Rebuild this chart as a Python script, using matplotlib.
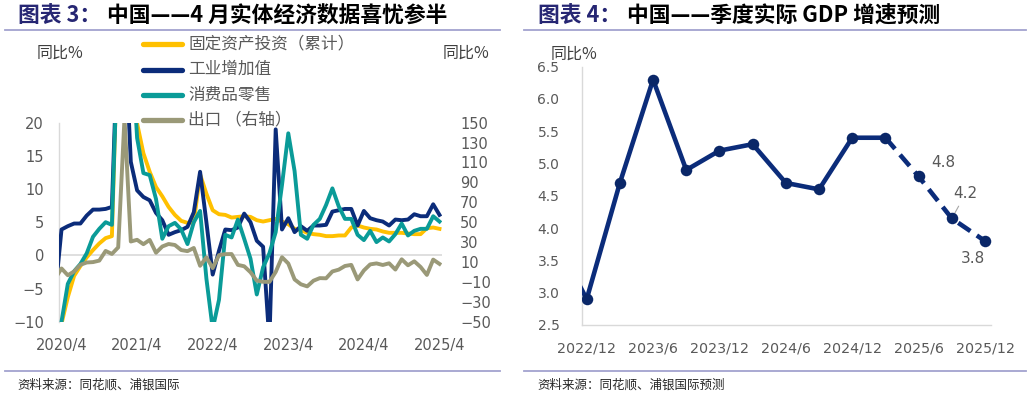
import matplotlib
matplotlib.use('Agg')
import matplotlib.pyplot as plt
from matplotlib.lines import Line2D
import numpy as np

plt.rcParams['font.family'] = ['DejaVu Sans', 'Noto Sans CJK SC']
CJK = ['Noto Sans CJK SC', 'DejaVu Sans']

W, H = 1032, 395

# ---------------- Left chart data (monthly, 2020/3 .. 2025/4) ----------------
months = [f"{y}/{m}" for y in range(2020, 2026) for m in range(1, 13)]
months = months[months.index("2020/3"):months.index("2025/4") + 1]

fai_cum = [
    -16.1,
    -10.3, -6.3, -3.1, -1.6, -0.3, 0.8, 1.8, 2.6, 2.9,
    35.0, 35.0, 25.6, 19.9, 15.4, 12.6, 10.3, 8.9, 7.3, 6.1, 5.2, 4.9,
    5.0, 12.2, 9.3, 6.8, 6.2, 6.1, 5.7, 5.8, 5.9, 5.8, 5.3, 5.1,
    5.3, 5.5, 5.1, 4.7, 4.0, 3.8, 3.4, 3.2, 3.1, 2.9, 2.9, 3.0,
    3.0, 4.2, 4.5, 4.2, 4.0, 3.9, 3.6, 3.4, 3.4, 3.4, 3.3, 3.2,
    3.2, 4.1, 4.2, 4.0]
ind_prod = [
    -5.8,
    3.9, 4.4, 4.8, 4.8, 6.0, 6.9, 6.9, 7.0, 7.3,
    35.1, 35.1, 14.1, 9.8, 8.8, 8.3, 6.4, 5.3, 3.1, 3.5, 3.8, 4.3,
    6.5, 12.6, 5.0, -2.9, 0.7, 3.9, 3.8, 4.2, 6.3, 5.0, 2.2, 1.3,
    -13.0, 19.0, 3.9, 5.6, 3.5, 4.4, 3.7, 4.5, 4.5, 4.6, 6.6, 6.8,
    7.0, 7.0, 4.5, 6.7, 5.6, 5.3, 5.1, 4.5, 5.4, 5.3, 5.4, 6.2,
    5.9, 5.9, 7.7, 6.1]
retail = [
    -15.8,
    -10.0, -4.3, -2.4, -1.3, 0.3, 2.8, 4.0, 5.0, 4.6,
    33.8, 33.8, 34.2, 17.7, 12.4, 12.1, 8.5, 2.5, 4.4, 4.9, 3.9, 1.7,
    5.0, 6.7, -3.5, -11.1, -6.7, 3.1, 2.7, 5.4, 2.5, -0.5, -5.9, -1.8,
    0.3, 3.5, 10.6, 18.4, 12.7, 3.1, 2.5, 4.6, 5.5, 7.6, 10.1, 7.4,
    5.5, 5.5, 3.1, 2.3, 3.7, 2.0, 2.7, 2.1, 3.2, 4.8, 3.0, 3.7,
    4.0, 4.0, 5.9, 5.1]
exports = [
    -6.6,
    3.5, -3.3, 0.5, 7.2, 9.5, 9.9, 11.4, 21.1, 18.1,
    24.7, 154.9, 30.6, 32.3, 27.9, 32.2, 19.3, 25.6, 28.1, 27.1, 22.0, 20.9,
    24.1, 6.2, 14.7, 3.9, 16.9, 17.9, 18.0, 7.1, 5.7, -0.3, -8.7, -9.9,
    -10.0, 0.0, 14.8, 8.5, -7.5, -12.4, -14.5, -8.8, -6.2, -6.4, 0.5, 2.3,
    6.0, 7.1, -7.5, 1.5, 7.6, 8.6, 7.0, 8.7, 2.4, 12.7, 6.7, 10.7,
    5.0, -3.0, 12.4, 8.1]

left_xticklabels = ["2020/4", "2021/4", "2022/4", "2023/4", "2024/4", "2025/4"]
left_series_names = ["固定资产投资（累计）", "工业增加值", "消费品零售", "出口 （右轴）"]

# ---------------- Right chart data (quarterly) ----------------
quarters = ["2022/9", "2022/12", "2023/3", "2023/6", "2023/9", "2023/12", "2024/3",
            "2024/6", "2024/9", "2024/12", "2025/3", "2025/6", "2025/9", "2025/12"]
gdp = [3.9, 2.9, 4.7, 6.3, 4.9, 5.2, 5.3, 4.7, 4.6, 5.4, 5.4, 4.8, 4.15, 3.8]
forecast_start = "2025/6"
right_xticklabels = ["2022/12", "2023/6", "2023/12", "2024/6", "2024/12", "2025/6", "2025/12"]

# ---------------- Styling ----------------
YELLOW = '#FFC000'
NAVY = '#0B2C7A'
TEAL = '#0A9B98'
OLIVE = '#9A9978'
GRID = '#D9D9D9'
TXT = '#595959'
RULE = '#A3A3CF'
TITLE_NAVY = '#262673'

fig = plt.figure(figsize=(W / 100, H / 100), dpi=100)


def fx(x):
    return x / W


def fy(y):
    return 1 - y / H


def rect(l, t, r, b):
    return [fx(l), fy(b), (r - l) / W, (b - t) / H]


# ---------------- Left chart ----------------
axL = fig.add_axes(rect(59.3, 122.7, 442, 321.7))
axE = axL.twinx()
xm = np.arange(len(months)) - months.index("2020/4")

lw = 2.8
l_fai, = axL.plot(xm, fai_cum, color=YELLOW, lw=lw, solid_joinstyle='round', zorder=2)
l_ip, = axL.plot(xm, ind_prod, color=NAVY, lw=lw, solid_joinstyle='round', zorder=3)
l_rt, = axL.plot(xm, retail, color=TEAL, lw=lw, solid_joinstyle='round', zorder=4)
l_ex, = axE.plot(xm, exports, color=OLIVE, lw=lw, solid_joinstyle='round', zorder=5)

axL.set_xlim(-0.35, 60.4)
axL.set_ylim(-10, 20)
axE.set_ylim(-50, 150)
axL.axhline(0, color=GRID, lw=1.2, zorder=1)
axL.set_yticks(np.arange(-10, 21, 5))
axE.set_yticks(np.arange(-50, 151, 20))
tick_pos = [months.index(lbl) - months.index("2020/4") for lbl in left_xticklabels]
axL.set_xticks(tick_pos)
axL.set_xticklabels(left_xticklabels)
for ax in (axL, axE):
    for s in ax.spines.values():
        s.set_visible(False)
axL.spines['left'].set_visible(True)
axL.spines['left'].set_color(GRID)
axL.spines['left'].set_linewidth(1.0)
axL.tick_params(axis='y', length=0, labelsize=10.5, colors=TXT, pad=11)
axL.tick_params(axis='x', length=0, labelsize=10.5, colors=TXT, pad=12)
axE.tick_params(axis='y', length=0, labelsize=10.5, colors=TXT, pad=13)
axL.set_facecolor('none')

fig.text(fx(60), fy(53), "同比%", ha='center', va='center', fontsize=11.5,
         color='#404040', family=CJK)
fig.text(fx(466), fy(53), "同比%", ha='center', va='center', fontsize=11.5,
         color='#404040', family=CJK)

# legend (manual)
leg_rows = [43.5, 69.5, 95, 120]
for line, name, yy in zip([l_fai, l_ip, l_rt, l_ex], left_series_names, leg_rows):
    fig.add_artist(Line2D([fx(143), fx(182)], [fy(yy), fy(yy)], color=line.get_color(),
                          lw=3.8, solid_capstyle='round', transform=fig.transFigure))
    fig.text(fx(188), fy(yy), name, ha='left', va='center', fontsize=12,
             color=TXT, family=CJK)

# ---------------- Right chart ----------------
axG = fig.add_axes(rect(581.7, 66.7, 991, 325))
xq = np.arange(len(quarters)) - quarters.index("2022/12")
k = quarters.index(forecast_start)
axG.plot(xq[:k], gdp[:k], color=NAVY, lw=3.3, solid_joinstyle='round', zorder=3)
axG.plot(xq[k - 1:], gdp[k - 1:], color=NAVY, lw=3.3, linestyle=(0, (3.2, 1.7)),
         zorder=3)
axG.plot(xq, gdp, linestyle='none', marker='o', markersize=8.3, color='#0A2768',
         markeredgewidth=0, zorder=4)
axG.set_xlim(-0.15, 12.18)
axG.set_ylim(2.5, 6.5)
axG.set_yticks(np.arange(2.5, 6.51, 0.5))
axG.set_yticklabels([f"{v:.1f}" for v in np.arange(2.5, 6.51, 0.5)])
axG.set_xticks([quarters.index(q) - quarters.index("2022/12") for q in right_xticklabels])
axG.set_xticklabels(right_xticklabels)
for s in ('top', 'right'):
    axG.spines[s].set_visible(False)
for s in ('left', 'bottom'):
    axG.spines[s].set_color(GRID)
    axG.spines[s].set_linewidth(1.0)
axG.tick_params(axis='y', length=0, labelsize=10, colors=TXT, pad=16)
axG.tick_params(axis='x', length=0, labelsize=10.3, colors=TXT, pad=12)

fig.text(fx(574.5), fy(54), "同比%", ha='center', va='center', fontsize=11.5,
         color='#404040', family=CJK)

# data labels for forecasts
offsets = [(18, 10), (10, 18), (-9, -12.5)]
for (dx, dy), q in zip(offsets, quarters[k:]):
    i = quarters.index(q)
    v = gdp[i]
    kw = {}
    if q == "2025/9":
        kw['arrowprops'] = dict(arrowstyle='-', color='#A6A6A6', lw=0.8,
                                shrinkA=2, shrinkB=3)
    axG.annotate(f"{v:.1f}", xy=(xq[i], v), xytext=(dx, dy), textcoords='offset points',
                 ha='center', va='center', fontsize=11, color=TXT, **kw)

# ---------------- Titles, rules, sources ----------------
def title(x, x2, y, head, rest):
    fig.text(fx(x), fy(y), head, ha='left', va='center', fontsize=15.7,
             fontweight='bold', color=TITLE_NAVY, family=CJK)
    fig.text(fx(x2), fy(y), rest, ha='left', va='center', fontsize=15.7,
             fontweight='bold', color='#000000', family=CJK)


title(18, 107, 16, "图表 3：", "中国——4 月实体经济数据喜忧参半")
title(537.5, 627, 16, "图表 4：", "中国——季度实际 GDP 增速预测")

for l, r in ((5, 500), (524, 1026)):
    for yy in (30, 370.5):
        fig.add_artist(Line2D([fx(l), fx(r)], [fy(yy), fy(yy)], color=RULE, lw=1.3,
                              transform=fig.transFigure))

fig.text(fx(17), fy(385), "资料来源：同花顺、浦银国际", ha='left', va='center',
         fontsize=9, color='#262626', family=CJK)
fig.text(fx(537), fy(385), "资料来源：同花顺、浦银国际预测", ha='left', va='center',
         fontsize=9, color='#262626', family=CJK)

fig.savefig('out.png', dpi=100)
